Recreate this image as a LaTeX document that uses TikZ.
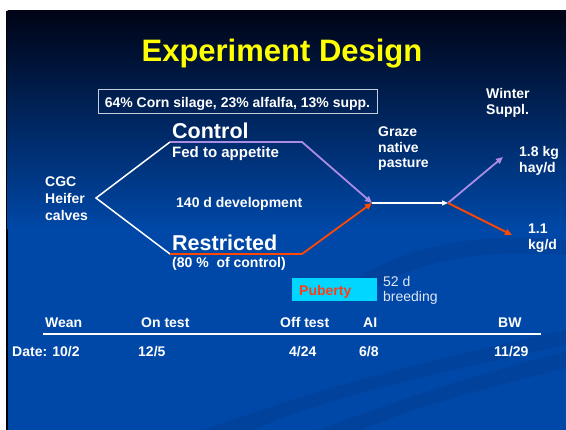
\documentclass[tikz,border=0pt]{standalone}
\usepackage{fontspec}
\setmainfont{Liberation Sans}
\usetikzlibrary{arrows.meta}
\definecolor{lav}{RGB}{172,140,228}
\definecolor{org}{RGB}{255,72,0}
\definecolor{bgtop}{RGB}{0,4,22}
\definecolor{bgmid}{RGB}{0,46,122}
\definecolor{bgbot}{RGB}{0,72,168}
\definecolor{cyanbox}{RGB}{0,214,255}
\definecolor{puborange}{RGB}{255,60,20}
\definecolor{ltxt}{RGB}{225,230,245}
\definecolor{boxgray}{RGB}{200,205,220}
\definecolor{titleyellow}{RGB}{255,255,0}
\begin{document}
\begin{tikzpicture}[x=1pt,y=-1pt,
  lbl/.style={text=white,inner sep=0pt,font=\bfseries\fontsize{14}{17}\selectfont},
  big/.style={text=white,inner sep=0pt,font=\bfseries\fontsize{21.5}{24}\selectfont},
  wline/.style={white,line width=1.5pt},
  lavline/.style={lav,line width=1.8pt},
  orgline/.style={org,line width=1.8pt},
  tip/.style={-{Triangle[length=7pt,width=6pt]}},
  swirl/.style={fill=black,opacity=0.07},
]
\useasboundingbox (0,0) rectangle (566,430);
\fill[white] (0,0) rectangle (566,430);
\fill[black] (5.5,11) rectangle (8,430);
\shade[top color=bgtop, middle color=bgmid, bottom color=bgbot] (7.5,11) rectangle (566,230);
\fill[bgbot] (7.5,229) rectangle (566,430);
% faint background swirls
\fill[swirl] (202,430) .. controls (290,400) and (360,375) .. (566,330) -- (566,345) .. controls (380,385) and (310,405) .. (253,430) -- cycle;
\fill[swirl] (318,430) .. controls (400,400) and (470,375) .. (566,352) -- (566,368) .. controls (480,390) and (420,405) .. (361,430) -- cycle;
\fill[swirl] (330,300) .. controls (380,250) and (470,230) .. (566,240) -- (566,255) .. controls (470,248) and (400,265) .. (360,300) -- cycle;

% title
\node[font=\bfseries\fontsize{31}{35}\selectfont, text=titleyellow, inner sep=0pt, anchor=base] (title) at (282,62) {Experiment Design};

% diet box
\node[lbl, draw=boxgray, line width=1pt, minimum width=279pt, minimum height=24pt, text height=14pt, text depth=2pt] (diet) at (237.5,102) {64\% Corn silage, 23\% alfalfa, 13\% supp.};

\node[lbl, anchor=north west, align=left, font=\bfseries\fontsize{14}{16}\selectfont] (winter) at (486,88) {Winter\\Suppl.};

\node[lbl, anchor=north west, align=left] (cgc) at (45,177) {CGC\\Heifer\\calves};

\node[big, anchor=base west] (control) at (172,139) {Control};
\node[lbl, anchor=base west, font=\bfseries\fontsize{15}{17}\selectfont] (fed) at (172,158) {Fed to appetite};
\node[lbl, anchor=base west] (dev) at (176,207.5) {140 d development};
\node[big, anchor=base west] (restricted) at (172,251) {Restricted};
\node[lbl, anchor=base west] (pct) at (172,268) {(80 \%\ \ of control)};

\node[lbl, anchor=north west, align=left, font=\bfseries\fontsize{14}{15.5}\selectfont] (graze) at (378,127) {Graze\\native\\pasture};
\node[lbl, anchor=north west, align=left, font=\bfseries\fontsize{14}{16}\selectfont] (hay) at (519,146) {1.8 kg\\hay/d};
\node[lbl, anchor=north west, align=left, font=\bfseries\fontsize{14}{16}\selectfont] (kg) at (528,224) {1.1\\kg/d};

% branching lines
\coordinate (apex) at (96,198);
\coordinate (ctop) at (170,142);
\coordinate (cbend) at (302,142);
\coordinate (rbot) at (170,254);
\coordinate (rbend) at (302,254);
\coordinate (merge) at (372,203);
\coordinate (split) at (448,203);
\coordinate (hayend) at (503,157);
\coordinate (kgend) at (512,235);

\draw[wline] (ctop) -- (apex) -- (rbot);
\draw[lavline, tip] (ctop) -- (cbend) -- (merge);
\draw[orgline, tip] (rbot) -- (rbend) -- (merge);
\draw[white, line width=1.3pt, -{Triangle[length=6pt,width=5pt]}] (merge) -- (split);
\draw[lavline, tip] (split) -- (hayend);
\draw[orgline, tip] (split) -- (kgend);

% puberty
\node[anchor=north west, fill=cyanbox, inner xsep=7pt, inner ysep=0pt, text width=71pt, align=left, minimum height=23pt, text height=14pt, text depth=2pt, text=puborange, font=\bfseries\fontsize{14}{16}\selectfont] (puberty) at (292,278) {Puberty};
\node[anchor=north west, inner sep=0pt, align=left, text=ltxt, font=\fontsize{14}{15}\selectfont] (breeding) at (383,276) {52 d\\breeding};

% timeline
\node[lbl, anchor=base west] (wean) at (45,328) {Wean};
\node[lbl, anchor=base west] (ontest) at (141,328) {On test};
\node[lbl, anchor=base west] (offtest) at (280,328) {Off test};
\node[lbl, anchor=base west] (ai) at (363,328) {AI};
\node[lbl, anchor=base west] (bw) at (498,328) {BW};
\coordinate (tl1) at (43,334);
\coordinate (tl2) at (541,334);
\draw[white, line width=2pt] (tl1) -- (tl2);
\node[lbl, anchor=base west] (d1) at (12,357) {Date: 10/2};
\node[lbl, anchor=base west] (d2) at (138,357) {12/5};
\node[lbl, anchor=base west] (d3) at (289,357) {4/24};
\node[lbl, anchor=base west] (d4) at (359,357) {6/8};
\node[lbl, anchor=base west] (d5) at (494,357) {11/29};
\end{tikzpicture}
\end{document}
